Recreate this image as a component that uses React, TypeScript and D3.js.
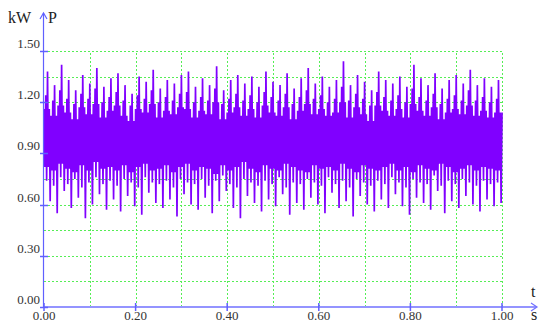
import React, { useEffect, useRef } from "react";
import * as d3 from "d3";

// per-cycle readings of the power trace (kW), about 65 cycles over 1 s
const peakHigh = [
  1.38, 1.30, 1.42, 1.33, 1.27, 1.36, 1.31, 1.40, 1.29, 1.34,
  1.37, 1.30, 1.25, 1.35, 1.32, 1.39, 1.28, 1.33, 1.31, 1.36,
  1.38, 1.29, 1.34, 1.30, 1.41, 1.27, 1.33, 1.36, 1.31, 1.35,
  1.29, 1.38, 1.32, 1.30, 1.37, 1.28, 1.34, 1.40, 1.31, 1.35,
  1.29, 1.33, 1.44, 1.30, 1.36, 1.32, 1.27, 1.38, 1.33, 1.31,
  1.35, 1.29, 1.42, 1.34, 1.30, 1.37, 1.28, 1.33, 1.36, 1.31,
  1.39, 1.30, 1.34, 1.29, 1.33,
];
const riseHigh = [
  1.24, 1.21, 1.27, 1.22, 1.19, 1.25, 1.22, 1.28, 1.20, 1.23,
  1.26, 1.21, 1.18, 1.24, 1.22, 1.27, 1.20, 1.23, 1.21, 1.25,
  1.26, 1.20, 1.23, 1.21, 1.28, 1.19, 1.22, 1.25, 1.21, 1.24,
  1.20, 1.26, 1.23, 1.21, 1.25, 1.19, 1.23, 1.27, 1.22, 1.24,
  1.20, 1.22, 1.29, 1.21, 1.25, 1.22, 1.18, 1.26, 1.23, 1.21,
  1.24, 1.20, 1.28, 1.23, 1.21, 1.25, 1.19, 1.22, 1.24, 1.21,
  1.27, 1.21, 1.23, 1.20, 1.22,
];
const shoulderHigh = [
  1.16, 1.12, 1.18, 1.14, 1.10, 1.17, 1.13, 1.19, 1.11, 1.15,
  1.18, 1.12, 1.09, 1.16, 1.14, 1.19, 1.11, 1.15, 1.13, 1.17,
  1.16, 1.11, 1.15, 1.13, 1.20, 1.10, 1.14, 1.17, 1.12, 1.16,
  1.11, 1.18, 1.14, 1.12, 1.17, 1.10, 1.15, 1.19, 1.13, 1.16,
  1.12, 1.14, 1.20, 1.11, 1.17, 1.13, 1.09, 1.18, 1.15, 1.12,
  1.16, 1.11, 1.19, 1.15, 1.12, 1.17, 1.10, 1.14, 1.16, 1.13,
  1.18, 1.12, 1.15, 1.11, 1.14,
];
const bandLow = [
  0.82, 0.80, 0.84, 0.81, 0.79, 0.83, 0.80, 0.85, 0.81, 0.82,
  0.80, 0.83, 0.79, 0.82, 0.84, 0.80, 0.81, 0.83, 0.79, 0.82,
  0.84, 0.80, 0.82, 0.81, 0.78, 0.83, 0.80, 0.82, 0.85, 0.81,
  0.79, 0.83, 0.81, 0.80, 0.84, 0.82, 0.80, 0.79, 0.83, 0.81,
  0.82, 0.80, 0.84, 0.81, 0.79, 0.83, 0.81, 0.80, 0.82, 0.84,
  0.80, 0.82, 0.79, 0.83, 0.81, 0.80, 0.84, 0.82, 0.79, 0.81,
  0.83, 0.80, 0.82, 0.81, 0.80,
];
const dipLow = [
  0.74, 0.71, 0.76, 0.72, 0.75, 0.70, 0.73, 0.76, 0.72, 0.74,
  0.71, 0.75, 0.73, 0.70, 0.76, 0.73, 0.72, 0.74, 0.70, 0.75,
  0.73, 0.72, 0.75, 0.71, 0.74, 0.77, 0.72, 0.70, 0.75, 0.73,
  0.71, 0.74, 0.72, 0.76, 0.70, 0.73, 0.72, 0.75, 0.73, 0.71,
  0.76, 0.72, 0.74, 0.70, 0.75, 0.73, 0.71, 0.74, 0.72, 0.76,
  0.73, 0.70, 0.75, 0.73, 0.72, 0.77, 0.71, 0.74, 0.72, 0.75,
  0.73, 0.71, 0.74, 0.72, 0.73,
];
const troughLow = [
  0.62, 0.55, 0.68, 0.58, 0.64, 0.52, 0.60, 0.66, 0.57, 0.63,
  0.56, 0.65, 0.59, 0.54, 0.67, 0.61, 0.58, 0.63, 0.53, 0.66,
  0.60, 0.57, 0.64, 0.55, 0.62, 0.68, 0.58, 0.52, 0.65, 0.61,
  0.56, 0.63, 0.59, 0.66, 0.54, 0.61, 0.57, 0.64, 0.60, 0.55,
  0.67, 0.58, 0.62, 0.53, 0.65, 0.60, 0.56, 0.63, 0.58, 0.66,
  0.59, 0.54, 0.64, 0.61, 0.57, 0.68, 0.55, 0.62, 0.58, 0.65,
  0.60, 0.56, 0.63, 0.59, 0.61,
];

const yTicks = [0, 0.3, 0.6, 0.9, 1.2, 1.5];
const xTicks = [0, 0.2, 0.4, 0.6, 0.8, 1.0];
const yGrid = [0.15, 0.3, 0.45, 0.6, 0.75, 0.9, 1.05, 1.2, 1.35, 1.5];
const xGrid = [0.1, 0.2, 0.3, 0.4, 0.5, 0.6, 0.7, 0.8, 0.9, 1.0];

const W = 539, H = 322;

export default function App() {
  const ref = useRef<SVGSVGElement>(null);

  useEffect(() => {
    const svg = d3.select(ref.current);
    svg.selectAll("*").remove();

    const x = d3.scaleLinear().domain([0, 1]).range([44, 502]);
    const y = d3.scaleLinear().domain([0, 1.5]).range([307, 51]);

    // grid
    const grid = svg.append("g").attr("stroke", "#55ee55").attr("stroke-width", 1)
      .attr("stroke-dasharray", "2,2");
    grid.selectAll("line.h").data(yGrid).enter().append("line")
      .attr("x1", x(0)).attr("x2", x(1))
      .attr("y1", d => Math.round(y(d)) + 0.5).attr("y2", d => Math.round(y(d)) + 0.5);
    grid.selectAll("line.v").data(xGrid).enter().append("line")
      .attr("y1", y(0)).attr("y2", y(1.5))
      .attr("x1", d => Math.round(x(d)) + 0.5).attr("x2", d => Math.round(x(d)) + 0.5);

    // trace: eight readings per cycle
    const n = Math.min(peakHigh.length, riseHigh.length, shoulderHigh.length,
      bandLow.length, dipLow.length, troughLow.length);
    const pts: [number, number][] = [];
    for (let i = 0; i < n; i++) {
      const seq = [shoulderHigh[i], bandLow[i], riseHigh[i], dipLow[i],
        peakHigh[i], bandLow[i], shoulderHigh[i], troughLow[i]];
      seq.forEach((v, k) => pts.push([(i + k / seq.length) / n, v]));
    }
    pts.push([1, shoulderHigh[n - 1]]);
    const line = d3.line<[number, number]>().x(d => x(d[0])).y(d => y(d[1]));
    svg.append("path").attr("d", line(pts)).attr("fill", "none")
      .attr("stroke", "#8000ff").attr("stroke-width", 1.7)
      .attr("stroke-linejoin", "miter").attr("stroke-miterlimit", 2);

    // axes
    const ax = svg.append("g");
    ax.append("line").attr("x1", 43).attr("x2", 536).attr("y1", 307).attr("y2", 307)
      .attr("stroke", "#9494ff").attr("stroke-width", 2);
    ax.append("path").attr("d", "M531,303 L537,307 L531,311").attr("fill", "none")
      .attr("stroke", "#7070ff").attr("stroke-width", 1.2);
    ax.append("line").attr("x1", 43.5).attr("x2", 43.5).attr("y1", 308).attr("y2", 13)
      .attr("stroke", "#6060ff").attr("stroke-width", 1.2);
    ax.append("path").attr("d", "M40,19 L43.5,13 L47,19").attr("fill", "none")
      .attr("stroke", "#6060ff").attr("stroke-width", 1.2);

    ax.selectAll("line.yt").data(yTicks).enter().append("line")
      .attr("x1", 40).attr("x2", 48)
      .attr("y1", d => Math.round(y(d)) + 0.5).attr("y2", d => Math.round(y(d)) + 0.5)
      .attr("stroke", "#6060ff").attr("stroke-width", 1.5);
    ax.selectAll("line.xt").data(xTicks).enter().append("line")
      .attr("y1", 303).attr("y2", 311)
      .attr("x1", d => x(d)).attr("x2", d => x(d))
      .attr("stroke", "#6060ff").attr("stroke-width", 1.5);

    const font = "'Liberation Serif', 'Times New Roman', serif";
    svg.selectAll("text.yl").data(yTicks).enter().append("text")
      .attr("x", 40).attr("y", d => y(d) - 3).attr("text-anchor", "end")
      .attr("font-family", font).attr("font-size", 13).attr("fill", "#333")
      .text(d => d3.format(".2f")(d));
    svg.selectAll("text.xl").data(xTicks).enter().append("text")
      .attr("x", d => x(d)).attr("y", 320).attr("text-anchor", "middle")
      .attr("font-family", font).attr("font-size", 13).attr("fill", "#333")
      .text(d => d3.format(".2f")(d));

    const lab = (t: string, px: number, py: number) =>
      svg.append("text").attr("x", px).attr("y", py).attr("font-family", font)
        .attr("font-size", 16).attr("fill", "#222").text(t);
    lab("kW", 8, 23);
    lab("P", 48, 23);
    lab("t", 531, 297);
    lab("s", 531, 320);
  }, []);

  return (
    <svg ref={ref} width={W} height={H}
      style={{ position: "fixed", left: 0, top: 0, background: "#fff" }} />
  );
}
